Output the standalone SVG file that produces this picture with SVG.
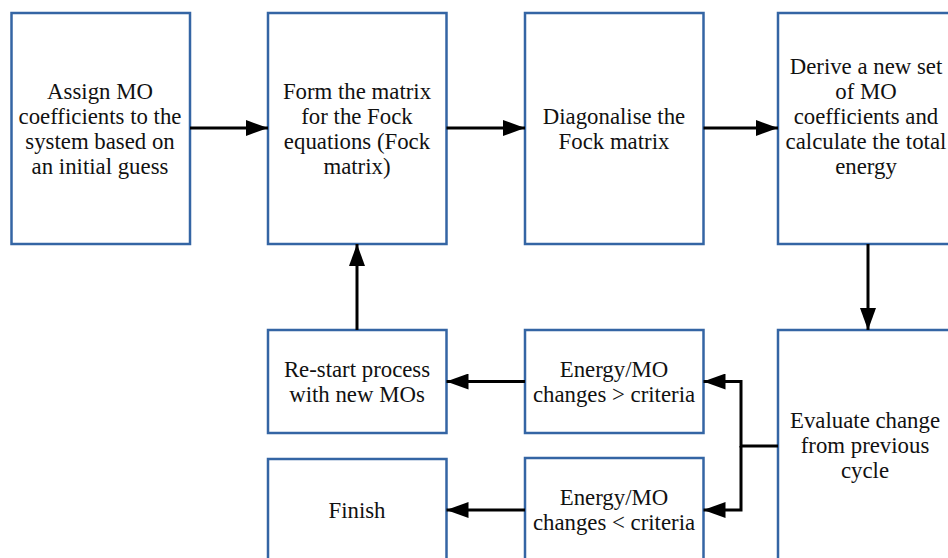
<svg xmlns="http://www.w3.org/2000/svg" width="948" height="558" viewBox="0 0 948 558">
<style>
.box{fill:#fff;stroke:#3465a4;stroke-width:2.5}
.t{font-family:'Liberation Serif','DejaVu Serif',serif;font-size:22.8px;fill:#111;text-anchor:middle}
.c{fill:none;stroke:#000;stroke-width:3}
</style>
<defs>
<marker id="ah" markerUnits="userSpaceOnUse" markerWidth="22" markerHeight="16" refX="22" refY="8" orient="auto">
<path d="M0,0 L22,8 L0,16 Z" fill="#000"/>
</marker>
</defs>
<rect width="948" height="558" fill="#fff"/>
<g id="n1"><rect class="box" x="11.5" y="13" width="178.5" height="231"/>
<text class="t"><tspan x="100" y="99">Assign MO</tspan><tspan x="100" y="124">coefficients to the</tspan><tspan x="100" y="149">system based on</tspan><tspan x="100" y="174">an initial guess</tspan></text></g>
<g id="n2"><rect class="box" x="268" y="13" width="178.5" height="231"/>
<text class="t"><tspan x="357" y="99">Form the matrix</tspan><tspan x="357" y="124">for the Fock</tspan><tspan x="357" y="149">equations (Fock</tspan><tspan x="357" y="174">matrix)</tspan></text></g>
<g id="n3"><rect class="box" x="525" y="13" width="178.5" height="231"/>
<text class="t"><tspan x="614" y="124">Diagonalise the</tspan><tspan x="614" y="149">Fock matrix</tspan></text></g>
<g id="n4"><rect class="box" x="778" y="13" width="178.5" height="231"/>
<text class="t"><tspan x="866" y="74">Derive a new set</tspan><tspan x="866" y="99">of MO</tspan><tspan x="866" y="124">coefficients and</tspan><tspan x="866" y="149">calculate the total</tspan><tspan x="866" y="174">energy</tspan></text></g>
<g id="n5"><rect class="box" x="778" y="330" width="178.5" height="231"/>
<text class="t"><tspan x="865" y="428">Evaluate change</tspan><tspan x="865" y="453">from previous</tspan><tspan x="865" y="478">cycle</tspan></text></g>
<g id="n6"><rect class="box" x="525" y="330" width="178.5" height="103"/>
<text class="t"><tspan x="614" y="377">Energy/MO</tspan><tspan x="614" y="402">changes &gt; criteria</tspan></text></g>
<g id="n7"><rect class="box" x="268" y="330" width="178.5" height="103"/>
<text class="t"><tspan x="357" y="377">Re-start process</tspan><tspan x="357" y="402">with new MOs</tspan></text></g>
<g id="n8"><rect class="box" x="525" y="458" width="178.5" height="103"/>
<text class="t"><tspan x="614" y="505">Energy/MO</tspan><tspan x="614" y="530">changes &lt; criteria</tspan></text></g>
<g id="n9"><rect class="box" x="268" y="459" width="178.5" height="103"/>
<text class="t"><tspan x="357" y="518">Finish</tspan></text></g>
<g id="connectors">
<path class="c" d="M190,128 H268" marker-end="url(#ah)"/>
<path class="c" d="M446.5,128 H525" marker-end="url(#ah)"/>
<path class="c" d="M703.5,128 H778" marker-end="url(#ah)"/>
<path class="c" d="M868,244 V330" marker-end="url(#ah)"/>
<path class="c" d="M778,446 H741 V381.5 H703.5" marker-end="url(#ah)"/>
<path class="c" d="M741,446 V510 H703.5" marker-end="url(#ah)"/>
<path class="c" d="M525,381.5 H446.5" marker-end="url(#ah)"/>
<path class="c" d="M525,510 H446.5" marker-end="url(#ah)"/>
<path class="c" d="M357,330 V244" marker-end="url(#ah)"/>
</g>
</svg>
